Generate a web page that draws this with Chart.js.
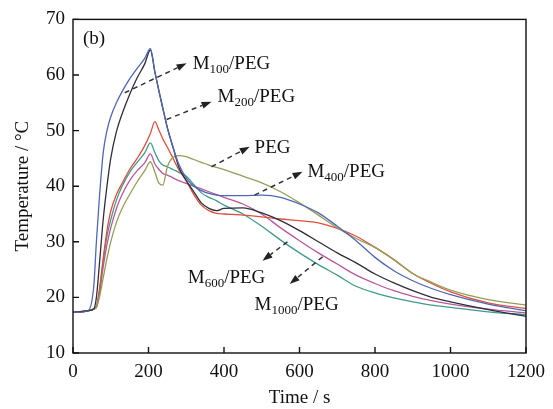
<!DOCTYPE html>
<html>
<head>
<meta charset="utf-8">
<script src="https://cdn.jsdelivr.net/npm/chart.js@4/dist/chart.umd.min.js"></script>
<style>
  html, body { margin:0; padding:0; background:#fff; }
  #wrap { width:553px; height:409px; }
</style>
</head>
<body>
<div id="wrap"><canvas id="myChart" width="553" height="409"></canvas></div>
<script>
// time axis (s)
const times = [0, 40, 55, 62, 70, 80, 90, 100, 115, 130, 150, 170, 190, 205, 217, 228, 238, 250, 265, 280,
  300, 320, 340, 360, 380, 400, 450, 500, 550, 600, 650, 700, 750, 800, 850, 900, 950, 1000, 1100, 1200];

// temperatures (°C)
const m100 = [17.3, 17.6, 22, 30, 38, 46, 50, 52.5, 55, 57, 59.3, 61.2, 63, 64.8, 60.5, 57, 54, 50.5, 47, 44,
  41.5, 40, 39.2, 38.7, 38.4, 38.3, 38.3, 38.4, 38, 36.8, 35.2, 32.8, 30.2, 27.2, 24.8, 23, 21.6, 20.5, 18.8, 17.6];
const m200 = [17.3, 17.6, 17.9, 20, 26, 34, 40, 45, 49.8, 53, 56.5, 59.5, 62, 64.5, 60.5, 57, 54, 50.5, 47, 43.5,
  41, 39, 37, 36, 35.6, 36, 36.1, 35.2, 33.8, 32, 30, 28, 26.2, 24.2, 22.6, 21.2, 20, 19.2, 17.8, 16.6];
const peg = [17.3, 17.6, 17.9, 18.3, 20, 23.5, 27, 30, 33.5, 36, 38.5, 40.8, 42.8, 44.4, 42.5, 40.5, 40.2, 43.5, 45.2, 45.5,
  45.3, 44.8, 44.3, 43.8, 43.4, 43, 41.8, 40.6, 39, 37, 34.8, 32.5, 30.6, 29, 26.8, 24.3, 22.7, 21.3, 19.6, 18.6];
const m400 = [17.3, 17.6, 17.9, 18.3, 21.5, 27, 32, 35.5, 38.5, 40.5, 43, 45, 47.3, 49.5, 51.6, 50, 48.5, 47, 45, 43,
  41, 38.5, 36.6, 35.6, 35.1, 35, 34.8, 34.5, 34.1, 33.8, 33.4, 32.4, 31, 29, 26.8, 24.3, 22.5, 21, 19, 18];
const m600 = [17.3, 17.6, 17.9, 18.3, 21, 26.5, 31, 34, 37.5, 40, 42.5, 44.3, 46, 47.8, 46, 44.5, 43.8, 43.5, 43, 42.5,
  41.8, 40.3, 38.8, 38, 37.4, 36.6, 35, 32.8, 30.3, 28, 25.9, 24, 22, 20.8, 19.9, 19.2, 18.6, 18.2, 17.4, 16.9];
const m1000 = [17.3, 17.6, 17.9, 18.2, 20.5, 25.5, 29.5, 32.5, 36, 38.5, 41, 42.8, 44.2, 45.8, 44, 43, 42.3, 42, 41.5, 41,
  40.5, 40, 39.5, 39, 38.5, 38, 36.8, 35, 32.5, 30.2, 28, 26, 24, 22.5, 21.2, 20.2, 19.4, 18.8, 17.9, 17.2];

const seriesNames = ['M100/PEG', 'M200/PEG', 'PEG', 'M400/PEG', 'M600/PEG', 'M1000/PEG'];
const seriesValues = [m100, m200, peg, m400, m600, m1000];
const seriesColors = ['#4f67b5', '#2e2e3c', '#949e58', '#e0503e', '#3f9a8e', '#b8589e'];

const xTicks = [0, 200, 400, 600, 800, 1000, 1200];
const yTicks = [10, 20, 30, 40, 50, 60, 70];

// annotation labels: [main, subscript, rest], text anchor and arrow (data coords)
const notes = [
  {txt:['M', '100', '/PEG'], at:[317, 62.1], from:[137, 56.8], to:[301, 62.1]},
  {txt:['M', '200', '/PEG'], at:[383, 56.2], from:[248, 52.0], to:[367, 55.2]},
  {txt:['PEG', '', ''],      at:[481, 47.1], from:[367, 43.5], to:[468, 47.1]},
  {txt:['M', '400', '/PEG'], at:[621, 42.8], from:[481, 38.4], to:[608, 42.6]},
  {txt:['M', '600', '/PEG'], at:[304, 23.6], from:[568, 30.0], to:[502, 26.6]},
  {txt:['M', '1000', '/PEG'],at:[481, 18.8], from:[661, 27.3], to:[574, 22.4]}
];

const serif = '"Liberation Serif", "Times New Roman", serif';

const frame = {
  id:'frame',
  afterDraw(chart){
    const c = chart.ctx, a = chart.chartArea;
    const sx = chart.scales.x, sy = chart.scales.y;
    c.save();
    c.strokeStyle = '#111';
    c.lineWidth = 1.4;
    c.strokeRect(a.left, a.top, a.right - a.left, a.bottom - a.top);
    c.beginPath();
    xTicks.forEach(v => {
      const p = sx.getPixelForValue(v);
      c.moveTo(p, a.bottom); c.lineTo(p, a.bottom - 6);
    });
    yTicks.forEach(v => {
      const p = sy.getPixelForValue(v);
      c.moveTo(a.left, p); c.lineTo(a.left + 6, p);
    });
    c.stroke();

    // (b)
    c.fillStyle = '#111';
    c.font = '19px ' + serif;
    c.textBaseline = 'middle';
    c.fillText('(b)', a.left + 10, a.top + 20);

    notes.forEach(n => {
      const x1 = sx.getPixelForValue(n.from[0]), y1 = sy.getPixelForValue(n.from[1]);
      const x2 = sx.getPixelForValue(n.to[0]), y2 = sy.getPixelForValue(n.to[1]);
      const ang = Math.atan2(y2 - y1, x2 - x1);
      const hl = 10;
      c.strokeStyle = '#333';
      c.lineWidth = 1.5;
      c.setLineDash([5, 4]);
      c.beginPath();
      c.moveTo(x1, y1);
      c.lineTo(x2 - hl * Math.cos(ang), y2 - hl * Math.sin(ang));
      c.stroke();
      c.setLineDash([]);
      c.fillStyle = '#222';
      c.beginPath();
      c.moveTo(x2, y2);
      c.lineTo(x2 - hl * Math.cos(ang) + 3.5 * Math.sin(ang), y2 - hl * Math.sin(ang) - 3.5 * Math.cos(ang));
      c.lineTo(x2 - hl * Math.cos(ang) - 3.5 * Math.sin(ang), y2 - hl * Math.sin(ang) + 3.5 * Math.cos(ang));
      c.closePath();
      c.fill();

      let tx = sx.getPixelForValue(n.at[0]);
      const ty = sy.getPixelForValue(n.at[1]);
      c.fillStyle = '#111';
      c.textBaseline = 'alphabetic';
      c.font = '19px ' + serif;
      c.fillText(n.txt[0], tx, ty + 6);
      tx += c.measureText(n.txt[0]).width;
      c.font = '13px ' + serif;
      c.fillText(n.txt[1], tx, ty + 10);
      tx += c.measureText(n.txt[1]).width;
      c.font = '19px ' + serif;
      c.fillText(n.txt[2], tx, ty + 6);
    });
    c.restore();
  }
};

const data = {
  datasets: seriesNames.map((name, k) => ({
    label: name,
    data: times.map((t, i) => ({x: t, y: seriesValues[k][i]})),
    borderColor: seriesColors[k],
    borderWidth: 1.3,
    pointRadius: 0,
    fill: false,
    cubicInterpolationMode: 'monotone'
  }))
};

const config = {
  type: 'line',
  data: data,
  options: {
    responsive: false,
    animation: false,
    layout: {padding: {left: 0, top: 13, right: 26, bottom: 0}},
    plugins: {legend: {display: false}, tooltip: {enabled: false}},
    scales: {
      x: {
        type: 'linear', min: 0, max: 1200,
        afterBuildTicks: s => { s.ticks = xTicks.map(v => ({value: v})); },
        afterFit: s => { s.height = 56; },
        grid: {display: false, drawTicks: false},
        border: {display: false},
        ticks: {color: '#111', font: {family: serif, size: 19}, padding: 8, maxRotation: 0,
          callback: v => String(v)},
        title: {display: true, text: 'Time / s', color: '#111', font: {family: serif, size: 19}, padding: {top: 0, bottom: 0}}
      },
      y: {
        min: 10, max: 70,
        afterBuildTicks: s => { s.ticks = yTicks.map(v => ({value: v})); },
        afterFit: s => { s.width = 73; },
        grid: {display: false, drawTicks: false},
        border: {display: false},
        ticks: {color: '#111', font: {family: serif, size: 19}, padding: 8},
        title: {display: true, text: 'Temperature / °C', color: '#111', font: {family: serif, size: 19}, padding: {top: 12, bottom: 0}}
      }
    }
  },
  plugins: [frame]
};

const myChart = new Chart(document.getElementById('myChart'), config);
</script>
</body>
</html>
